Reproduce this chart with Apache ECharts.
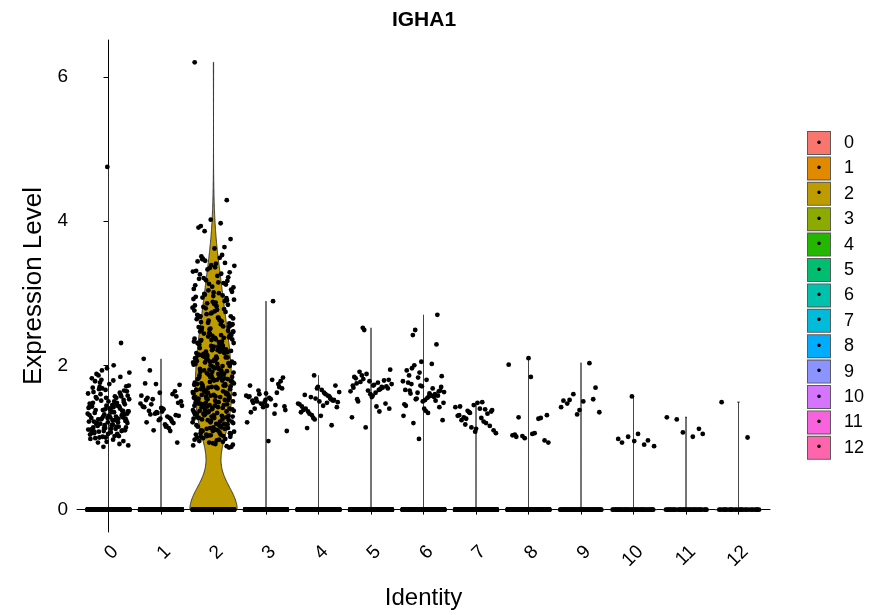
<!DOCTYPE html>
<html>
<head>
<meta charset="utf-8">
<title>IGHA1</title>
<script src="https://cdn.jsdelivr.net/npm/echarts@6/dist/echarts.min.js"></script>
<style>
  html, body { margin: 0; padding: 0; background: #ffffff; }
  #chart { width: 886px; height: 615px; }
</style>
</head>
<body>
<div id="chart"></div>
<script>
// ---- data -------------------------------------------------------------
const geneName = 'IGHA1';
const identities = ['0', '1', '2', '3', '4', '5', '6', '7', '8', '9', '10', '11', '12'];
const identityColors = ['#F8766D', '#E18A00', '#BE9C00', '#8CAB00', '#24B700', '#00BE70',
  '#00C1AB', '#00BBDA', '#00ACFC', '#8B93FF', '#D575FE', '#F962DD', '#FF65AC'];
const yTickValues = [0, 2, 4, 6];

// cells per identity with no detected IGHA1 expression (value 0)
const zeroCellCounts = [900, 800, 195, 650, 600, 560, 500, 450, 400, 60, 40, 32, 25];

// expression of the remaining cells, per identity
const expr0 = [1.42, 1.18, 0.95, 4.75, 1.27, 1.05, 1.51, 1.33, 1.12, 1.78, 2.31, 1.39, 1.22, 1.57, 1.08, 1.46, 1.30, 1.69, 1.15, 1.01,
  1.36, 1.24, 1.88, 1.10, 1.44, 0.98, 1.55, 1.19, 1.71, 1.28, 1.06, 1.40, 1.13, 1.61, 1.35, 0.93, 1.49, 1.21, 1.82, 1.03,
  1.26, 1.58, 1.16, 1.38, 1.09, 1.66, 1.31, 1.47, 1.00, 1.23, 1.74, 1.14, 1.43, 1.29, 1.53, 0.97, 1.20, 1.37, 1.96, 1.11,
  1.48, 1.25, 1.64, 1.07, 1.34, 1.59, 1.17, 1.41, 1.02, 1.86, 1.32, 1.50, 1.12, 1.26, 1.68, 0.89, 1.45, 1.19, 1.37, 1.55,
  1.04, 1.29, 1.76, 1.14, 1.40, 1.22, 1.62, 1.09, 1.33, 2.00, 1.16, 1.52, 1.27, 1.06, 1.44, 1.80, 1.20, 1.35, 0.99, 1.57,
  1.13, 1.42, 1.24, 1.67, 1.10, 1.30, 1.48, 1.02, 1.38, 1.72, 1.18, 1.54, 1.28, 0.94, 1.46, 1.15, 1.60, 1.23, 1.39, 1.08,
  1.84, 1.32, 1.11, 1.50, 1.25, 1.65, 1.05, 1.43, 1.21, 1.93, 1.36, 1.17, 1.56, 1.31, 1.00, 1.47, 1.12, 1.70, 1.26, 1.40,
  1.63, 0.91, 0.87, 1.90, 1.79];
const expr1 = [1.48, 1.36, 1.52, 1.22, 1.74, 1.44, 1.15, 1.93, 1.31, 1.62, 2.09, 1.27, 1.10, 1.73, 1.39, 1.55, 1.20, 1.34,
  1.58, 1.29, 1.46, 0.93, 1.41, 1.75, 1.25, 1.33, 1.50, 1.18, 1.37, 1.64, 1.24, 1.43, 1.13, 1.53, 1.30, 1.40, 1.21, 1.60,
  1.35, 1.47, 1.16, 1.32, 1.57, 1.26, 1.42, 1.09];
const expr2 = [3.93, 4.29, 4.02, 6.20, 3.97, 3.86, 3.75, 3.62, 3.91, 3.64,
  3.04, 3.38, 3.15, 3.47, 3.22, 3.09, 3.31, 3.53, 3.18, 3.02, 3.41, 3.26, 3.12, 3.35, 3.06, 3.49, 3.21, 3.29, 3.01, 3.44,
  3.14, 3.33, 3.08, 3.24, 3.51, 3.17, 3.39, 3.11, 3.27, 3.45, 3.05, 3.36, 3.20, 3.42, 3.13, 3.30, 3.00, 3.48,
  2.53, 2.88, 2.64, 2.97, 2.71, 2.57, 2.82, 2.68, 2.93, 2.51, 2.76, 2.62, 2.99, 2.55, 2.85, 2.69, 2.78, 2.59, 2.91, 2.66,
  2.52, 2.84, 2.73, 2.95, 2.61, 2.79, 2.56, 2.87, 2.67, 2.74, 2.50, 2.92, 2.63, 2.81, 2.58, 2.96, 2.70, 2.54, 2.86, 2.65,
  2.77, 2.60, 2.90, 2.72, 2.83, 2.57, 2.98, 2.68, 2.75, 2.53, 2.89, 2.62, 2.80, 2.66, 2.94,
  2.03, 2.41, 2.17, 2.28, 2.09, 2.36, 2.12, 2.47, 2.22, 2.05, 2.33, 2.19, 2.44, 2.01, 2.26, 2.14, 2.38, 2.08, 2.31, 2.21,
  2.49, 2.11, 2.35, 2.02, 2.24, 2.16, 2.42, 2.07, 2.29, 2.18, 2.45, 2.04, 2.32, 2.13, 2.39, 2.23, 2.06, 2.27, 2.15, 2.46,
  2.10, 2.34, 2.20, 2.00, 2.37, 2.25, 2.12, 2.43, 2.08, 2.30, 2.17, 2.40, 2.03, 2.26, 2.14, 2.48, 2.21, 2.09, 2.33, 2.19,
  2.05, 2.36, 2.24, 2.11, 2.44, 2.01, 2.28, 2.16, 2.39, 2.06, 2.31, 2.22, 2.13, 2.47, 2.02, 2.35, 2.18, 2.27, 2.10, 2.42,
  2.04, 2.20, 2.38, 2.15,
  1.52, 1.87, 1.63, 1.95, 1.71, 1.58, 1.82, 1.66, 1.99, 1.54, 1.77, 1.69, 1.91, 1.60, 1.84, 1.73, 1.56, 1.93, 1.67, 1.79,
  1.51, 1.88, 1.62, 1.75, 1.97, 1.59, 1.81, 1.70, 1.53, 1.90, 1.65, 1.78, 1.57, 1.86, 1.72, 1.94, 1.61, 1.83, 1.68, 1.55,
  1.98, 1.74, 1.64, 1.89, 1.50, 1.80, 1.67, 1.92, 1.58, 1.76, 1.85, 1.63, 1.71, 1.96, 1.54, 1.82, 1.69, 1.60, 1.88, 1.73,
  1.52, 1.91, 1.66, 1.79, 1.57, 1.84, 1.70, 1.95, 1.62, 1.77, 1.55, 1.87, 1.65, 1.99, 1.59, 1.81, 1.72, 1.53, 1.90, 1.68,
  1.75, 1.61, 1.86, 1.56, 1.93, 1.64, 1.78, 1.51, 1.83, 1.74,
  1.03, 1.38, 1.17, 1.46, 1.24, 1.09, 1.33, 1.41, 1.12, 1.29, 1.49, 1.06, 1.36, 1.21, 1.44, 1.15, 1.31, 1.01, 1.27, 1.47,
  1.19, 1.35, 1.08, 1.42, 1.25, 1.13, 1.39, 1.04, 1.30, 1.48, 1.22, 1.11, 1.37, 1.18, 1.45, 1.26, 1.07, 1.33, 1.40, 1.14,
  1.28, 1.02, 1.43, 1.20, 1.34, 1.10, 1.46, 1.23, 1.32, 1.16, 1.38, 1.05, 1.44, 1.27, 1.12, 1.36, 1.21, 1.49, 1.09, 1.30,
  1.41, 1.17, 1.25, 1.04, 1.39, 1.19, 1.47, 1.28, 1.13, 1.35, 1.22, 1.43, 1.06, 1.31, 1.15, 1.45, 1.24, 1.37, 1.10, 1.42,
  1.18, 1.29, 1.48, 1.14, 1.33,
  0.87, 0.91, 0.95, 0.98, 0.93, 0.89, 0.97, 0.99, 0.86, 0.92, 1.00, 0.94, 1.02, 0.90, 0.96, 1.01, 0.88, 1.03, 0.97, 1.04];
const expr3 = [1.52, 1.57, 1.45, 1.60, 1.38, 1.55, 1.48, 1.70, 1.42, 1.21, 2.89, 1.50, 1.83, 1.44, 1.35, 1.62, 1.47, 1.09,
  1.53, 1.40, 1.78, 1.49, 1.56, 1.33, 1.65, 1.43, 0.95, 1.51, 1.74, 1.46, 1.58, 1.80, 1.54, 1.68, 1.61, 1.72];
const expr4 = [1.55, 1.86, 1.47, 1.62, 1.36, 1.52, 1.70, 1.43, 1.58, 1.31, 1.49, 1.66, 1.40, 1.17, 1.54, 1.46, 1.60,
  1.33, 1.72, 1.50, 1.38, 1.57, 1.27, 1.63, 1.44, 1.13, 1.51, 1.68, 1.35, 1.48, 1.56, 1.42, 1.30, 1.59, 1.53, 1.25];
const expr5 = [1.72, 1.66, 2.52, 1.80, 1.58, 1.75, 1.69, 1.88, 1.64, 1.43, 1.77, 1.71, 1.60, 1.84, 1.67, 2.49, 1.94, 1.73,
  1.50, 1.79, 1.65, 1.28, 1.76, 1.86, 1.68, 1.56, 1.82, 1.70, 1.14, 1.74, 1.62, 1.91, 1.47, 1.78, 1.69, 1.36, 1.81, 1.40,
  1.72, 1.53];
const expr6 = [1.62, 1.48, 1.55, 1.74, 2.70, 2.05, 1.66, 1.58, 2.49, 1.70, 1.52, 1.86, 1.60, 0.98, 1.78, 1.57, 2.42, 1.64,
  1.50, 1.93, 1.68, 1.54, 1.24, 1.80, 1.61, 2.29, 1.72, 1.46, 1.59, 2.00, 1.65, 1.40, 1.76, 1.56, 1.83, 1.63, 1.34, 1.96,
  1.58, 1.71, 1.44, 2.02, 1.53, 1.85, 1.37, 1.65, 1.51, 1.90, 1.30, 1.61, 1.20, 1.42];
const expr7 = [1.49, 1.26, 1.38, 1.12, 1.43, 1.20, 1.34, 1.06, 1.40, 1.28, 1.16, 1.45, 1.30, 1.22, 1.37, 1.10, 1.48,
  1.24, 1.33, 1.14, 1.42, 1.27, 1.18, 1.36, 1.08, 1.31, 1.39, 1.35];
const expr8 = [1.31, 1.84, 1.04, 1.27, 0.99, 2.01, 1.06, 1.28, 0.96, 2.10, 1.03, 1.26, 1.02, 0.93, 1.05, 1.01];
const expr9 = [1.52, 1.69, 1.38, 1.51, 2.03, 1.60, 1.35, 1.50, 1.47, 1.53, 1.32, 1.42];
const expr10 = [0.95, 0.98, 0.90, 1.01, 0.88, 1.05, 0.93, 0.96, 1.57];
const expr11 = [1.12, 1.07, 1.28, 1.01, 1.25, 1.05];
const expr12 = [1.49, 1.00];

const nonZeroExpression = [expr0, expr1, expr2, expr3, expr4, expr5, expr6, expr7, expr8, expr9, expr10, expr11, expr12];

// ---- per-identity cell values and violin profiles ---------------------
const cellValues = identities.map((_, i) =>
  nonZeroExpression[i].concat(new Array(zeroCellCounts[i]).fill(0)));

function quantile7(sorted, p) {
  const h = (sorted.length - 1) * p;
  const lo = Math.floor(h);
  const hi = Math.min(lo + 1, sorted.length - 1);
  return sorted[lo] + (h - lo) * (sorted[hi] - sorted[lo]);
}

// Silverman's rule of thumb; when most cells are tied at zero the IQR vanishes
// and the kernel collapses onto the observations (thin "stick" violins)
function bandwidth(values, adjust) {
  const n = values.length;
  const mean = values.reduce((a, b) => a + b, 0) / n;
  const sd = Math.sqrt(values.reduce((a, b) => a + (b - mean) * (b - mean), 0) / (n - 1));
  const s = values.slice().sort((a, b) => a - b);
  const iqr = quantile7(s, 0.75) - quantile7(s, 0.25);
  let lo = Math.min(sd, iqr / 1.349);
  if (!lo) lo = 1e-5;
  return adjust * 0.9 * lo * Math.pow(n, -0.2);
}

// Gaussian kernel density over the data range, scaled so every violin has the same max width
function violinProfile(values, halfWidth, adjust) {
  const counts = new Map();
  values.forEach(v => counts.set(v, (counts.get(v) || 0) + 1));
  const h = bandwidth(values, adjust);
  const lo = Math.min(...values), hi = Math.max(...values);
  const steps = 512;
  const ys = [], dens = [];
  for (let j = 0; j < steps; j++) {
    const y = lo + (hi - lo) * j / (steps - 1);
    let d = 0;
    counts.forEach((c, v) => { const z = (y - v) / h; d += c * Math.exp(-0.5 * z * z); });
    ys.push(y); dens.push(d);
  }
  const maxD = Math.max(...dens);
  return ys.map((y, j) => [y, dens[j] / maxD * halfWidth]);
}

const profiles = cellValues.map(v => violinProfile(v, 0.45, 1.15));

// jittered cell positions: low-discrepancy horizontal offsets within ±0.4
const cellPoints = [];
cellValues.forEach((vals, i) => {
  vals.forEach((v, k) => {
    const off = (((k + 1) * 0.6180339887498949 + i * 0.29) % 1 - 0.5) * 0.8;
    cellPoints.push([i + off, v]);
  });
});

// ---- chart ------------------------------------------------------------
const chart = echarts.init(document.getElementById('chart'), null, { renderer: 'canvas' });
const FONT = 'Liberation Sans, Arial, sans-serif';

const violinSeries = identities.map((name, i) => ({
  name: name,
  type: 'custom',
  z: 2,
  itemStyle: { color: identityColors[i] },
  data: [[i]],
  encode: { x: 0 },
  renderItem: (params, api) => {
    const idx = api.value(0);
    const prof = profiles[idx];
    const left = prof.map(([y, w]) => api.coord([idx - w, y]));
    const right = prof.slice().reverse().map(([y, w]) => api.coord([idx + w, y]));
    return {
      type: 'polygon',
      shape: { points: left.concat(right) },
      style: { fill: identityColors[idx], stroke: '#333333', lineWidth: 1 }
    };
  }
}));

const legendRich = { t: { fontSize: 18, fontFamily: FONT, color: '#000', padding: [0, 0, 0, 14] } };
identities.forEach((name, i) => {
  legendRich['b' + i] = {
    width: 22, height: 22, lineHeight: 22, align: 'center', verticalAlign: 'middle',
    backgroundColor: identityColors[i], borderColor: '#5a5a5a', borderWidth: 1,
    fontSize: 13, color: '#000000', fontFamily: FONT
  };
});

chart.setOption({
  animation: false,
  backgroundColor: '#ffffff',
  title: {
    text: geneName,
    left: 419, top: 5, textAlign: 'center',
    textStyle: { fontFamily: FONT, fontWeight: 'bold', fontSize: 21, color: '#000' }
  },
  grid: { left: 77, right: 116, top: 40, bottom: 80 },
  legend: {
    data: identities,
    orient: 'vertical',
    left: 802, top: 131,
    padding: 0,
    itemWidth: 1, itemHeight: 23, itemGap: 1.4,
    itemStyle: { opacity: 0 },
    selectedMode: false,
    formatter: name => `{b${identities.indexOf(name)}|•}{t|${name}}`,
    textStyle: { rich: legendRich }
  },
  xAxis: {
    type: 'value',
    min: -0.6, max: 12.6,
    name: 'Identity',
    nameLocation: 'middle',
    nameGap: 54,
    nameTextStyle: { fontFamily: FONT, fontSize: 24, color: '#000' },
    axisLine: { lineStyle: { color: '#000', width: 1 } },
    axisTick: { show: true, length: 5, lineStyle: { color: '#000' }, customValues: identities.map((_, i) => i) },
    axisLabel: {
      customValues: identities.map((_, i) => i),
      formatter: v => identities[Math.round(v)],
      rotate: 45, margin: 10,
      align: 'right', verticalAlign: 'top',
      fontFamily: FONT, fontSize: 19, color: '#000'
    },
    splitLine: { show: false }
  },
  yAxis: {
    type: 'value',
    min: -0.31, max: 6.51,
    name: 'Expression Level',
    nameLocation: 'middle',
    nameRotate: 90,
    nameGap: 29,
    nameTextStyle: { fontFamily: FONT, fontSize: 26, color: '#000' },
    axisLine: { show: true, lineStyle: { color: '#000', width: 1 } },
    axisTick: { show: true, length: 5, lineStyle: { color: '#000' }, customValues: yTickValues },
    axisLabel: { customValues: yTickValues, margin: 9, fontFamily: FONT, fontSize: 19, color: '#000' },
    splitLine: { show: false }
  },
  series: violinSeries.concat([{
    name: 'cells',
    type: 'scatter',
    z: 3,
    symbol: 'circle',
    symbolSize: 4.8,
    itemStyle: { color: '#000000', opacity: 1 },
    progressive: 0,
    large: false,
    data: cellPoints
  }])
});
</script>
</body>
</html>
